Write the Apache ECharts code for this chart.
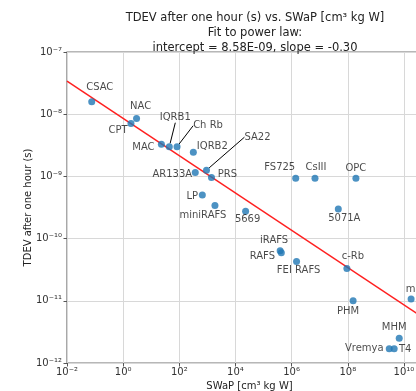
<!DOCTYPE html>
<html><head><meta charset="utf-8">
<script src="https://cdn.jsdelivr.net/npm/echarts@6/dist/echarts.min.js"></script>
<style>html,body{margin:0;padding:0;background:#fff}#c{width:416px;height:391px}</style>
</head><body><div id="c"></div>
<script>
// ---- data ----
const names = ['CSAC','NAC','CPT','MAC','IQRB1','Ch Rb','IQRB2','AR133A','SA22','PRS','LP','miniRAFS','5669','FS725','CsIII','OPC','5071A','iRAFS','RAFS','FEI RAFS','c-Rb','PHM','mRO','MHM','Vremya','T4'];
const swap = [0.076, 3.0, 1.9, 23, 44, 83, 316, 370, 930, 1400, 660, 1860, 23000, 1.4e6, 6.8e6, 1.95e8, 4.6e7, 3.9e5, 4.3e5, 1.5e6, 9.3e7, 1.55e8, 1.8e10, 6.8e9, 3.0e9, 4.5e9];
const tdev = [1.58e-8, 8.5e-9, 7.1e-9, 3.3e-9, 3.0e-9, 3.0e-9, 2.45e-9, 1.15e-9, 1.26e-9, 9.6e-10, 5.0e-10, 3.4e-10, 2.75e-10, 9.3e-10, 9.3e-10, 9.3e-10, 3.0e-10, 6.4e-11, 5.9e-11, 4.3e-11, 3.3e-11, 1.0e-11, 1.07e-11, 2.5e-12, 1.7e-12, 1.7e-12];
const fitIntercept = 8.58e-9;
const fitSlope = -0.30;
const fitX = [0.01, 1e11];
const xTickExps = [-2, 0, 2, 4, 6, 8, 10];
const xTickLabels = ['10⁻²', '10⁰', '10²', '10⁴', '10⁶', '10⁸', '10¹⁰'];
const yTickExps = [-12, -11, -10, -9, -8, -7];
const yTickLabels = ['10⁻¹²', '10⁻¹¹', '10⁻¹⁰', '10⁻⁹', '10⁻⁸', '10⁻⁷'];

// ---- styling (label placement, px offsets from point centre) ----
const labelOffsets = {
  'CSAC':[8,-14],'NAC':[4,-12],'CPT':[-13,7],'MAC':[-18,3],'IQRB1':[6,-29],'Ch Rb':[31,-21],
  'IQRB2':[19,-6],'AR133A':[-23,2],'SA22':[51,-33],'PRS':[16,-3],'LP':[-10,1],'miniRAFS':[-12,10],
  '5669':[2,8],'FS725':[-16,-11],'CsIII':[1,-11],'OPC':[0,-10],'5071A':[6,9],'iRAFS':[-6,-10],
  'RAFS':[-19,4],'FEI RAFS':[2,9],'c-Rb':[6,-12],'PHM':[-5,11],'mRO':[7,-10],'MHM':[-5,-11],
  'Vremya':[-25,0],'T4':[11,1]
};
const leaders = ['IQRB1','Ch Rb','SA22'];

const FONT = 'DejaVu Sans';
const pts = names.map((n, i) => {
  const item = { name: n, value: [swap[i], tdev[i]] };
  if (leaders.indexOf(n) >= 0) item.labelLine = { show: true, lineStyle: { color: '#000', width: 1 } };
  return item;
});
const fitData = fitX.map(x => [x, fitIntercept * Math.pow(x, fitSlope)]);

function fmt(exps, labels) {
  return function (v) {
    const e = Math.round(Math.log10(v));
    const k = exps.indexOf(e);
    return k >= 0 ? labels[k] : '';
  };
}

const chart = echarts.init(document.getElementById('c'), null, { renderer: 'canvas' });
chart.setOption({
  animation: false,
  backgroundColor: '#fff',
  textStyle: { fontFamily: FONT },
  title: {
    text: 'TDEV after one hour (s) vs. SWaP [cm³ kg W]\nFit to power law:\nintercept = 8.58E-09, slope = -0.30',
    left: 250, top: 6, textAlign: 'center',
    textStyle: { fontFamily: FONT, fontSize: 11.5, fontWeight: 'normal', color: '#222', lineHeight: 15 }
  },
  grid: { left: 67, top: 52, width: 365, height: 311, outerBoundsMode: 'none', containLabel: false,
          show: true, borderColor: '#707070', borderWidth: 1.2, backgroundColor: 'transparent' },
  xAxis: {
    type: 'log', logBase: 10, min: 0.01, max: 1e11, interval: 2,
    name: 'SWaP [cm³ kg W]', nameLocation: 'middle', nameGap: 18, nameMoveOverlap: false,
    nameTextStyle: { fontFamily: FONT, fontSize: 10, color: '#222' },
    axisLine: { show: false },
    axisTick: { show: true, inside: false, length: 3.5, lineStyle: { color: '#555' } },
    axisLabel: { formatter: fmt(xTickExps, xTickLabels), fontFamily: FONT, fontSize: 10, color: '#333', margin: 4 },
    splitLine: { show: true, lineStyle: { color: '#d8d8d8', width: 1 } }
  },
  yAxis: {
    type: 'log', logBase: 10, min: 1e-12, max: 1e-7, interval: 1,
    name: 'TDEV after one hour (s)', nameLocation: 'middle', nameGap: 34, nameMoveOverlap: false,
    nameTextStyle: { fontFamily: FONT, fontSize: 10, color: '#222' },
    axisLine: { show: false },
    axisTick: { show: true, inside: false, length: 3.5, lineStyle: { color: '#555' } },
    axisLabel: { formatter: fmt(yTickExps, yTickLabels), fontFamily: FONT, fontSize: 10, color: '#333', margin: 5 },
    splitLine: { show: true, lineStyle: { color: '#d8d8d8', width: 1 } }
  },
  series: [
    {
      type: 'line', data: fitData, symbol: 'none', z: 2,
      lineStyle: { color: '#ff2020', width: 1.5 }
    },
    {
      type: 'scatter', data: pts, symbolSize: 7, z: 3,
      itemStyle: { color: '#1f77b4' },
      label: { show: true, position: 'inside', formatter: '{b}', fontFamily: FONT, fontSize: 10, color: '#1a1a1a' },
      labelLayout: function (p) {
        const o = labelOffsets[names[p.dataIndex]] || [0, 0];
        return { dx: o[0], dy: o[1] };
      }
    }
  ]
});
</script></body></html>
